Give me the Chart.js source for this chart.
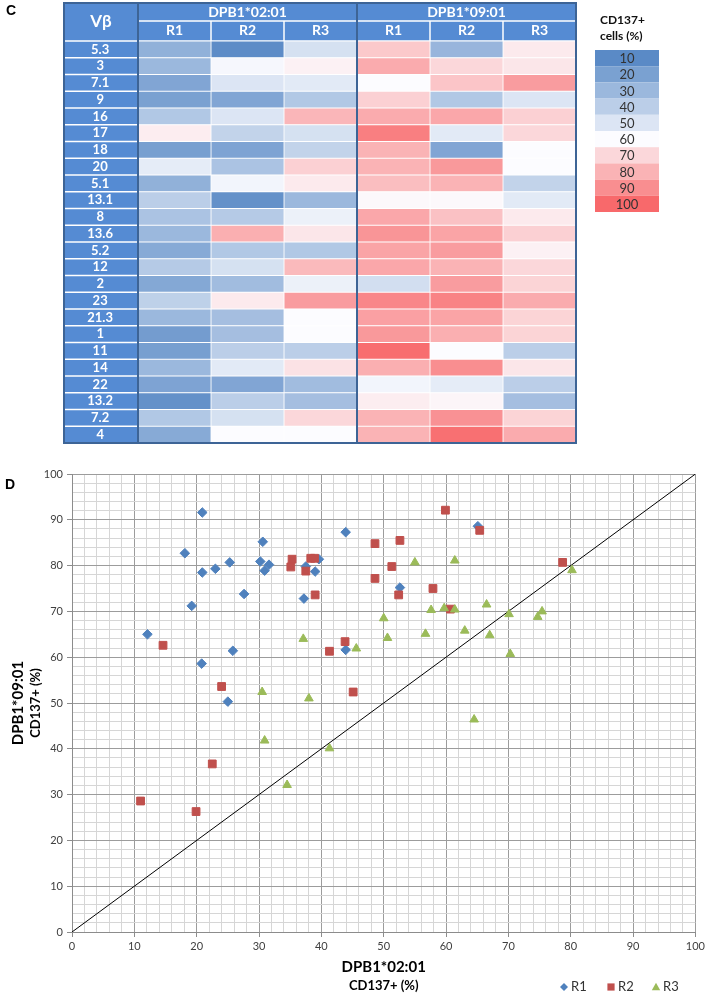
<!DOCTYPE html>
<html>
<head>
<meta charset="utf-8">
<script src="https://cdn.jsdelivr.net/npm/chart.js@4.4.1/dist/chart.umd.min.js"></script>
<style>
html, body { margin: 0; padding: 0; background: #fff; }
body { width: 708px; height: 996px; position: relative; overflow: hidden; }
#heat { position: absolute; left: 0; top: 0; }
#scat { position: absolute; left: 0; top: 450px; }
</style>
</head>
<body>
<canvas id="heat" width="708" height="450"></canvas>
<canvas id="scat" width="708" height="546"></canvas>
<script>
// ---- panel C : heat map data (CD137+ cells, %) ----
const vbeta = ['5.3','3','7.1','9','16','17','18','20','5.1','13.1','8','13.6','5.2','12','2','23','21.3','1','11','14','22','13.2','7.2','4'];
const a0201R1 = [27,30,22,20,37,64,19,53,27,40,35,30,24,38,23,41,30,18,19,30,21,13,37,24];
const a0201R2 = [11,58,50,22,50,42,21,35,57,13,38,81,37,48,32,65,33,33,40,52,22,40,48,60];
const a0201R3 = [48,63,52,37,79,48,42,72,65,30,55,66,37,78,55,86,60,60,40,67,32,33,70,60];
const a0901R1 = [74,82,60,72,82,94,80,80,77,61,83,88,84,83,47,92,85,87,99,81,57,64,80,80];
const a0901R2 = [29,70,75,37,83,52,22,87,80,61,76,84,86,80,86,93,84,81,60,90,53,62,89,98];
const a0901R3 = [65,66,86,50,72,70,60,60,42,52,65,72,63,70,71,82,71,71,40,66,40,33,71,82];
const colNames = ['R1','R2','R3','R1','R2','R3'];
const groups = ['DPB1*02:01','DPB1*09:01'];
const legendSteps = [10,20,30,40,50,60,70,80,90,100];

// ---- panel D : scatter data ----
const r1x = [20.9,18.1,43.9,30.6,20.9,23.0,25.3,30.2,30.9,31.6,27.6,19.2,12.1,25.8,20.8,25.0,37.5,39.0,39.6,37.2,43.9,65.1,52.6];
const r1y = [91.6,82.7,87.3,85.2,78.5,79.3,80.7,80.9,78.9,80.2,73.8,71.2,65.0,61.4,58.6,50.3,79.8,78.7,81.4,72.8,61.6,88.6,75.2];
const r2x = [35.3,35.1,38.3,38.9,37.5,39.0,48.6,48.6,14.6,43.8,41.3,45.1,24.0,59.9,52.6,51.3,52.4,57.9,65.4,78.7,60.7,11.0,19.9,22.5];
const r2y = [81.4,79.7,81.6,81.6,78.8,73.6,84.8,77.2,62.6,63.4,61.3,52.4,53.6,92.1,85.5,79.8,73.6,75.0,87.7,80.7,70.5,28.6,26.3,36.7];
const r3x = [37.1,45.6,30.5,38.0,55.0,61.4,80.2,50.0,50.6,57.6,59.7,61.4,56.7,63.0,66.5,67.0,70.1,70.3,74.7,75.4,64.5,30.9,41.3,34.5];
const r3y = [64.0,61.9,52.4,51.0,80.7,81.1,79.0,68.5,64.2,70.3,70.7,70.4,65.1,65.8,71.5,64.8,69.4,60.7,68.8,70.0,46.4,41.8,40.1,32.1];
const diagX = [0, 100];
const diagY = [0, 100];

const headBlue = '#558bd3';
const edgeBlue = '#3d6496';
const lowC = [90,138,198], midC = [252,252,255], highC = [248,105,107];

function heatColor(v) {
  let a, b, t;
  if (v <= 60) { a = lowC; b = midC; t = (v - 10) / 50; }
  else { a = midC; b = highC; t = (v - 60) / 40; }
  t = Math.max(0, Math.min(1, t));
  const c = a.map((k, i) => Math.round(k + (b[i] - k) * t));
  return `rgb(${c[0]},${c[1]},${c[2]})`;
}

function line(ctx, x1, y1, x2, y2) {
  ctx.beginPath(); ctx.moveTo(x1, y1); ctx.lineTo(x2, y2); ctx.stroke();
}

const tablePlugin = {
  id: 'table',
  beforeDraw(chart) {
    const {ctx, chartArea: a, scales: {x, y}} = chart;
    const left = y.left, top = a.top - 38, mid = a.top - 20;
    ctx.save();
    ctx.fillStyle = headBlue;
    ctx.fillRect(left, top, a.right - left, a.top - top);
    ctx.fillRect(left, a.top, a.left - left, a.bottom - a.top);
    ctx.strokeStyle = '#fff';
    ctx.lineWidth = 1.5;
    for (let i = 1; i < vbeta.length; i++) {
      const yy = (y.getPixelForValue(i - 1) + y.getPixelForValue(i)) / 2;
      line(ctx, left, yy, a.left, yy);
    }
    line(ctx, a.left, mid, a.right, mid);
    line(ctx, left, a.top, a.right, a.top);
    [1, 2, 4, 5].forEach(c => {
      const xx = x.getPixelForValue(c);
      line(ctx, xx, mid, xx, a.top);
    });
    ctx.restore();
  },
  afterDraw(chart) {
    const {ctx, chartArea: a, scales: {x, y}} = chart;
    const left = y.left, top = a.top - 38, mid = a.top - 20;
    ctx.save();
    ctx.strokeStyle = edgeBlue;
    ctx.lineWidth = 2;
    ctx.strokeRect(left, top, a.right - left, a.bottom - top);
    line(ctx, a.left, top, a.left, a.bottom);
    line(ctx, x.getPixelForValue(3), top, x.getPixelForValue(3), a.bottom);

    ctx.fillStyle = '#fff';
    ctx.textAlign = 'center';
    ctx.textBaseline = 'middle';
    ctx.font = 'bold 17px Lato, "Open Sans", sans-serif';
    ctx.fillText('Vβ', (left + a.left) / 2, (top + a.top) / 2);
    ctx.font = 'bold 14px Lato, "Open Sans", sans-serif';
    ctx.fillText(groups[0], x.getPixelForValue(1.5), (top + mid) / 2);
    ctx.fillText(groups[1], x.getPixelForValue(4.5), (top + mid) / 2);

    // colour key
    const kx = 595, ky = 50, kw = 64, kh = 16.2;
    ctx.fillStyle = '#111';
    ctx.textAlign = 'left';
    ctx.font = 'bold 12px Lato, "Open Sans", sans-serif';
    ctx.fillText('CD137+', kx + 5, 20);
    ctx.fillText('cells (%)', kx + 5, 36);
    ctx.textAlign = 'center';
    ctx.font = '13px Lato, "Open Sans", sans-serif';
    legendSteps.forEach((s, i) => {
      ctx.fillStyle = heatColor(s);
      ctx.fillRect(kx, ky + i * kh, kw, kh);
      ctx.fillStyle = '#333';
      ctx.fillText(String(s), kx + kw / 2, ky + i * kh + kh / 2 + 1);
    });

    ctx.fillStyle = '#000';
    ctx.textAlign = 'left';
    ctx.font = 'bold 14px "Liberation Sans", Arial, sans-serif';
    ctx.fillText('C', 6, 11);
    ctx.restore();
  }
};

const cols = [a0201R1, a0201R2, a0201R3, a0901R1, a0901R2, a0901R3];

new Chart(document.getElementById('heat'), {
  type: 'bar',
  data: {
    labels: vbeta,
    datasets: cols.map((vals, c) => ({
      label: groups[c < 3 ? 0 : 1] + ' ' + colNames[c],
      data: vals.map(() => [c, c + 1]),
      backgroundColor: vals.map(heatColor),
      borderColor: '#ffffff',
      borderWidth: 0.75,
      borderSkipped: false,
      barPercentage: 1,
      categoryPercentage: 1,
      grouped: false
    }))
  },
  options: {
    indexAxis: 'y',
    responsive: false,
    animation: false,
    layout: { padding: { left: 64, right: 132, top: 21, bottom: 7 } },
    plugins: { legend: { display: false }, tooltip: { enabled: false } },
    scales: {
      x: { type: 'linear', min: 0, max: 6, display: false },
      x2: {
        type: 'category', labels: colNames, position: 'top', offset: true,
        grid: { display: false, drawTicks: false }, border: { display: false },
        ticks: { color: '#fff', font: { family: 'Lato', weight: 'bold', size: 14 }, padding: 2, autoSkip: false },
        afterFit(s) { s.height = 20; }
      },
      y: {
        grid: { display: false, drawTicks: false }, border: { display: false },
        ticks: { color: '#fff', font: { family: 'Lato', weight: 'bold', size: 13 }, crossAlign: 'center', padding: 25, autoSkip: false },
        afterFit(s) { s.width = 74; s.paddingTop = 0; s.paddingBottom = 0; }
      }
    }
  },
  plugins: [tablePlugin]
});

// ---- panel D ----
const blue = '#4f81bd', red = '#c0504d', green = '#9bbb59';

function drawMarker(ctx, style, x, y, r, color) {
  ctx.fillStyle = color;
  ctx.beginPath();
  if (style === 'rectRot') {
    ctx.moveTo(x, y - r); ctx.lineTo(x + r, y); ctx.lineTo(x, y + r); ctx.lineTo(x - r, y);
  } else if (style === 'rect') {
    ctx.rect(x - r, y - r, 2 * r, 2 * r);
  } else {
    ctx.moveTo(x, y - r); ctx.lineTo(x + r, y + r * 0.8); ctx.lineTo(x - r, y + r * 0.8);
  }
  ctx.closePath();
  ctx.fill();
}

const titlePlugin = {
  id: 'titles',
  afterDraw(chart) {
    const {ctx, chartArea: a} = chart;
    const cx = (a.left + a.right) / 2, cy = (a.top + a.bottom) / 2;
    ctx.save();
    ctx.fillStyle = '#000';
    ctx.textAlign = 'center';
    ctx.textBaseline = 'middle';
    ctx.font = 'bold 15px Lato, "Open Sans", sans-serif';
    ctx.fillText('DPB1*02:01', cx, 517);
    ctx.font = 'bold 13px Lato, "Open Sans", sans-serif';
    ctx.fillText('CD137+ (%)', cx, 536);

    ctx.save();
    ctx.translate(18, cy);
    ctx.rotate(-Math.PI / 2);
    ctx.font = 'bold 15px Lato, "Open Sans", sans-serif';
    ctx.fillText('DPB1*09:01', 0, 0);
    ctx.restore();
    ctx.save();
    ctx.translate(36, cy);
    ctx.rotate(-Math.PI / 2);
    ctx.font = 'bold 13px Lato, "Open Sans", sans-serif';
    ctx.fillText('CD137+ (%)', 0, 0);
    ctx.restore();

    // series key
    ctx.textAlign = 'left';
    ctx.font = '13px Lato, "Open Sans", sans-serif';
    const keys = [['R1', 'rectRot', blue, 564, 4], ['R2', 'rect', red, 611, 3.6], ['R3', 'triangle', green, 656, 4.2]];
    keys.forEach(([txt, st, col, kx, r]) => {
      drawMarker(ctx, st, kx, 537, r, col);
      ctx.fillStyle = '#333';
      ctx.fillText(txt, kx + 7, 537);
    });

    ctx.fillStyle = '#000';
    ctx.font = 'bold 14px "Liberation Sans", Arial, sans-serif';
    ctx.fillText('D', 5, 35);
    ctx.restore();
  }
};

const gridColor = c => (c.tick && c.tick.value % 10 === 0) ? '#9c9c9c' : '#d6d6d6';
const tickColor = c => (c.tick && c.tick.value % 10 === 0) ? '#8c8c8c' : 'rgba(0,0,0,0)';
const tickFont = { family: 'Lato', size: 11 };

const pts = (xs, ys) => xs.map((x, i) => ({ x: x, y: ys[i] }));

new Chart(document.getElementById('scat'), {
  type: 'scatter',
  data: {
    datasets: [
      { label: 'R1', data: pts(r1x, r1y), pointStyle: 'rectRot', pointRadius: 4.8, backgroundColor: blue, borderColor: blue, borderWidth: 1, order: 3 },
      { label: 'R2', data: pts(r2x, r2y), pointStyle: 'rect', pointRadius: 5.5, backgroundColor: red, borderColor: red, borderWidth: 1, order: 2 },
      { label: 'R3', data: pts(r3x, r3y), pointStyle: 'triangle', pointRadius: 5, backgroundColor: green, borderColor: green, borderWidth: 1, order: 1 },
      { label: 'y = x', data: pts(diagX, diagY), showLine: true, pointRadius: 0, borderColor: '#000', borderWidth: 1, order: 4 }
    ]
  },
  options: {
    responsive: false,
    animation: false,
    layout: { padding: { top: 24, right: 10, left: 0, bottom: 0 } },
    plugins: { legend: { display: false }, tooltip: { enabled: false } },
    scales: {
      x: {
        type: 'linear', min: 0, max: 100,
        ticks: { stepSize: 2, autoSkip: false, maxRotation: 0, maxTicksLimit: 101, padding: 3,
          callback: v => v % 10 === 0 ? v : '', color: '#404040', font: tickFont },
        grid: { color: gridColor, tickColor: tickColor, tickLength: 5 },
        border: { color: '#8c8c8c' },
        afterFit(s) { s.height = 64; }
      },
      y: {
        type: 'linear', min: 0, max: 100,
        ticks: { stepSize: 2, autoSkip: false, maxTicksLimit: 101, padding: 4,
          callback: v => v % 10 === 0 ? v : '', color: '#404040', font: tickFont },
        grid: { color: gridColor, tickColor: tickColor, tickLength: 5 },
        border: { color: '#8c8c8c' },
        afterFit(s) { s.width = 72; }
      }
    }
  },
  plugins: [titlePlugin]
});
</script>
</body>
</html>
